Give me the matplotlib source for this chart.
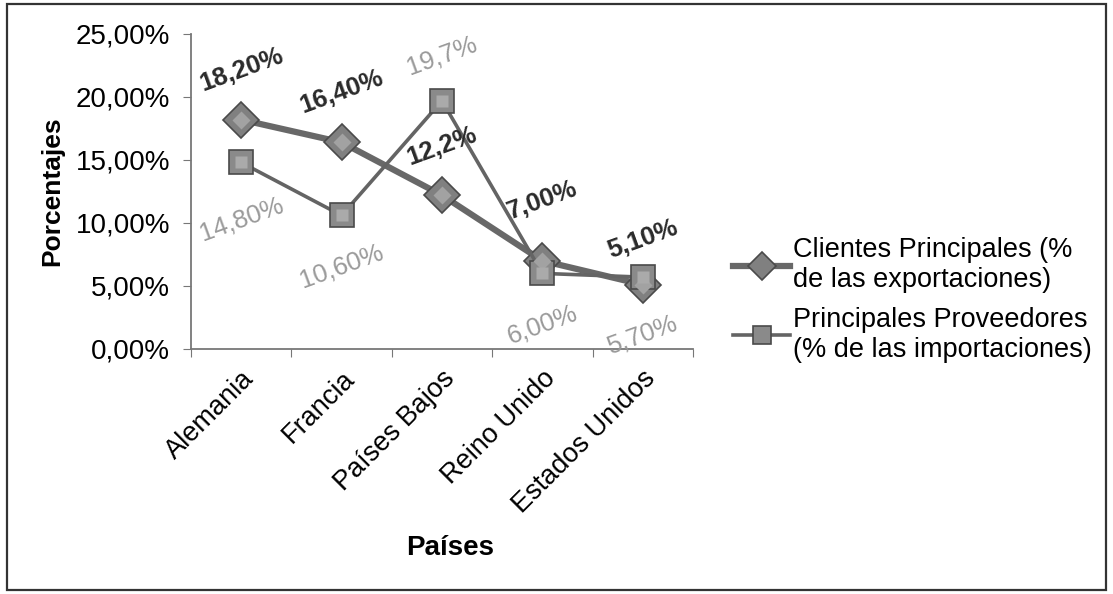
import matplotlib.pyplot as plt
from matplotlib.patches import Rectangle
from matplotlib.ticker import FuncFormatter
from matplotlib.transforms import ScaledTranslation

plt.rcParams['font.family'] = ['Liberation Sans', 'DejaVu Sans']

paises = ['Alemania', 'Francia', 'Países Bajos', 'Reino Unido', 'Estados Unidos']
clientes = [18.2, 16.4, 12.2, 7.0, 5.1]
proveedores = [14.8, 10.6, 19.7, 6.0, 5.7]
etiq_clientes = ['18,20%', '16,40%', '12,2%', '7,00%', '5,10%']
etiq_proveedores = ['14,80%', '10,60%', '19,7%', '6,00%', '5,70%']

fig = plt.figure(figsize=(11.13, 5.94), dpi=100)
ax = fig.add_axes([0.1716, 0.4125, 0.451, 0.5303])

x = list(range(len(paises)))

# exportaciones: thick line with diamonds
ax.plot(x, clientes, color='#686868', lw=4.5, marker='D', ms=18.5,
        mfc='#808080', mec='#4a4a4a', mew=1.2, zorder=3,
        label='Clientes Principales (%\nde las exportaciones)')
ax.plot(x, clientes, ls='none', marker='D', ms=9, mfc='#a2a2a2',
        mec='none', zorder=4)

# importaciones: thinner line with squares
ax.plot(x, proveedores, color='#646464', lw=2.6, marker='s', ms=17,
        mfc='#8a8a8a', mec='#4a4a4a', mew=1.2, zorder=3,
        label='Principales Proveedores\n(% de las importaciones)')
ax.plot(x, proveedores, ls='none', marker='s', ms=8.5, mfc='#aaaaaa',
        mec='none', zorder=4)

# data labels
off_c = [4.0, 4.0, 3.9, 4.8, 3.6]
for i, (v, t) in enumerate(zip(clientes, etiq_clientes)):
    ax.text(i, v + off_c[i], t, rotation=20, ha='center', va='center',
            fontsize=18.5, fontweight='bold', color='#2a2a2a', zorder=5)

off_p = [-4.5, -4.0, 3.6, -4.1, -4.6]
for i, (v, t) in enumerate(zip(proveedores, etiq_proveedores)):
    ax.text(i, v + off_p[i], t, rotation=20, ha='center', va='center',
            fontsize=18.5, color='#9a9a9a', zorder=5)

ax.set_xlim(-0.5, 4.5)
ax.set_ylim(0, 25)
ax.set_yticks([0, 5, 10, 15, 20, 25])
ax.yaxis.set_major_formatter(FuncFormatter(lambda v, p: f'{v:.2f}%'.replace('.', ',')))
ax.set_xticks([i - 0.5 for i in range(6)], minor=False)
ax.set_xticklabels([])
ax.set_xticks(x, minor=True)
ax.set_xticklabels(paises, minor=True, rotation=45, ha='right',
                   rotation_mode='anchor', fontsize=19.5)
# nudge the country names a little to the left
for lbl in ax.get_xticklabels(minor=True):
    lbl.set_transform(lbl.get_transform() + ScaledTranslation(-0.07, 0, fig.dpi_scale_trans))
ax.tick_params(axis='x', which='minor', length=0, pad=12)
ax.tick_params(axis='x', which='major', length=6, color='#777777')
ax.tick_params(axis='y', length=6, color='#777777', labelsize=20, pad=9)

for s in ['top', 'right']:
    ax.spines[s].set_visible(False)
for s in ['left', 'bottom']:
    ax.spines[s].set_color('#777777')
    ax.spines[s].set_linewidth(1.3)

ax.set_ylabel('Porcentajes', fontsize=19, fontweight='bold', labelpad=8)
fig.text(0.404, 0.077, 'Países', fontsize=20, fontweight='bold',
         ha='center', va='center')

leg = ax.legend(loc='center left', bbox_to_anchor=(1.08, 0.155), frameon=False,
                fontsize=19.5, handlelength=2.1, handletextpad=0.1,
                labelspacing=0.5, markerscale=0.75, borderpad=0,
                borderaxespad=0)

# outer frame
fig.patches.append(Rectangle((0.006, 0.006), 0.988, 0.988, transform=fig.transFigure,
                             fill=False, ec='#333333', lw=1.6))

fig.savefig('out.png', dpi=100)
